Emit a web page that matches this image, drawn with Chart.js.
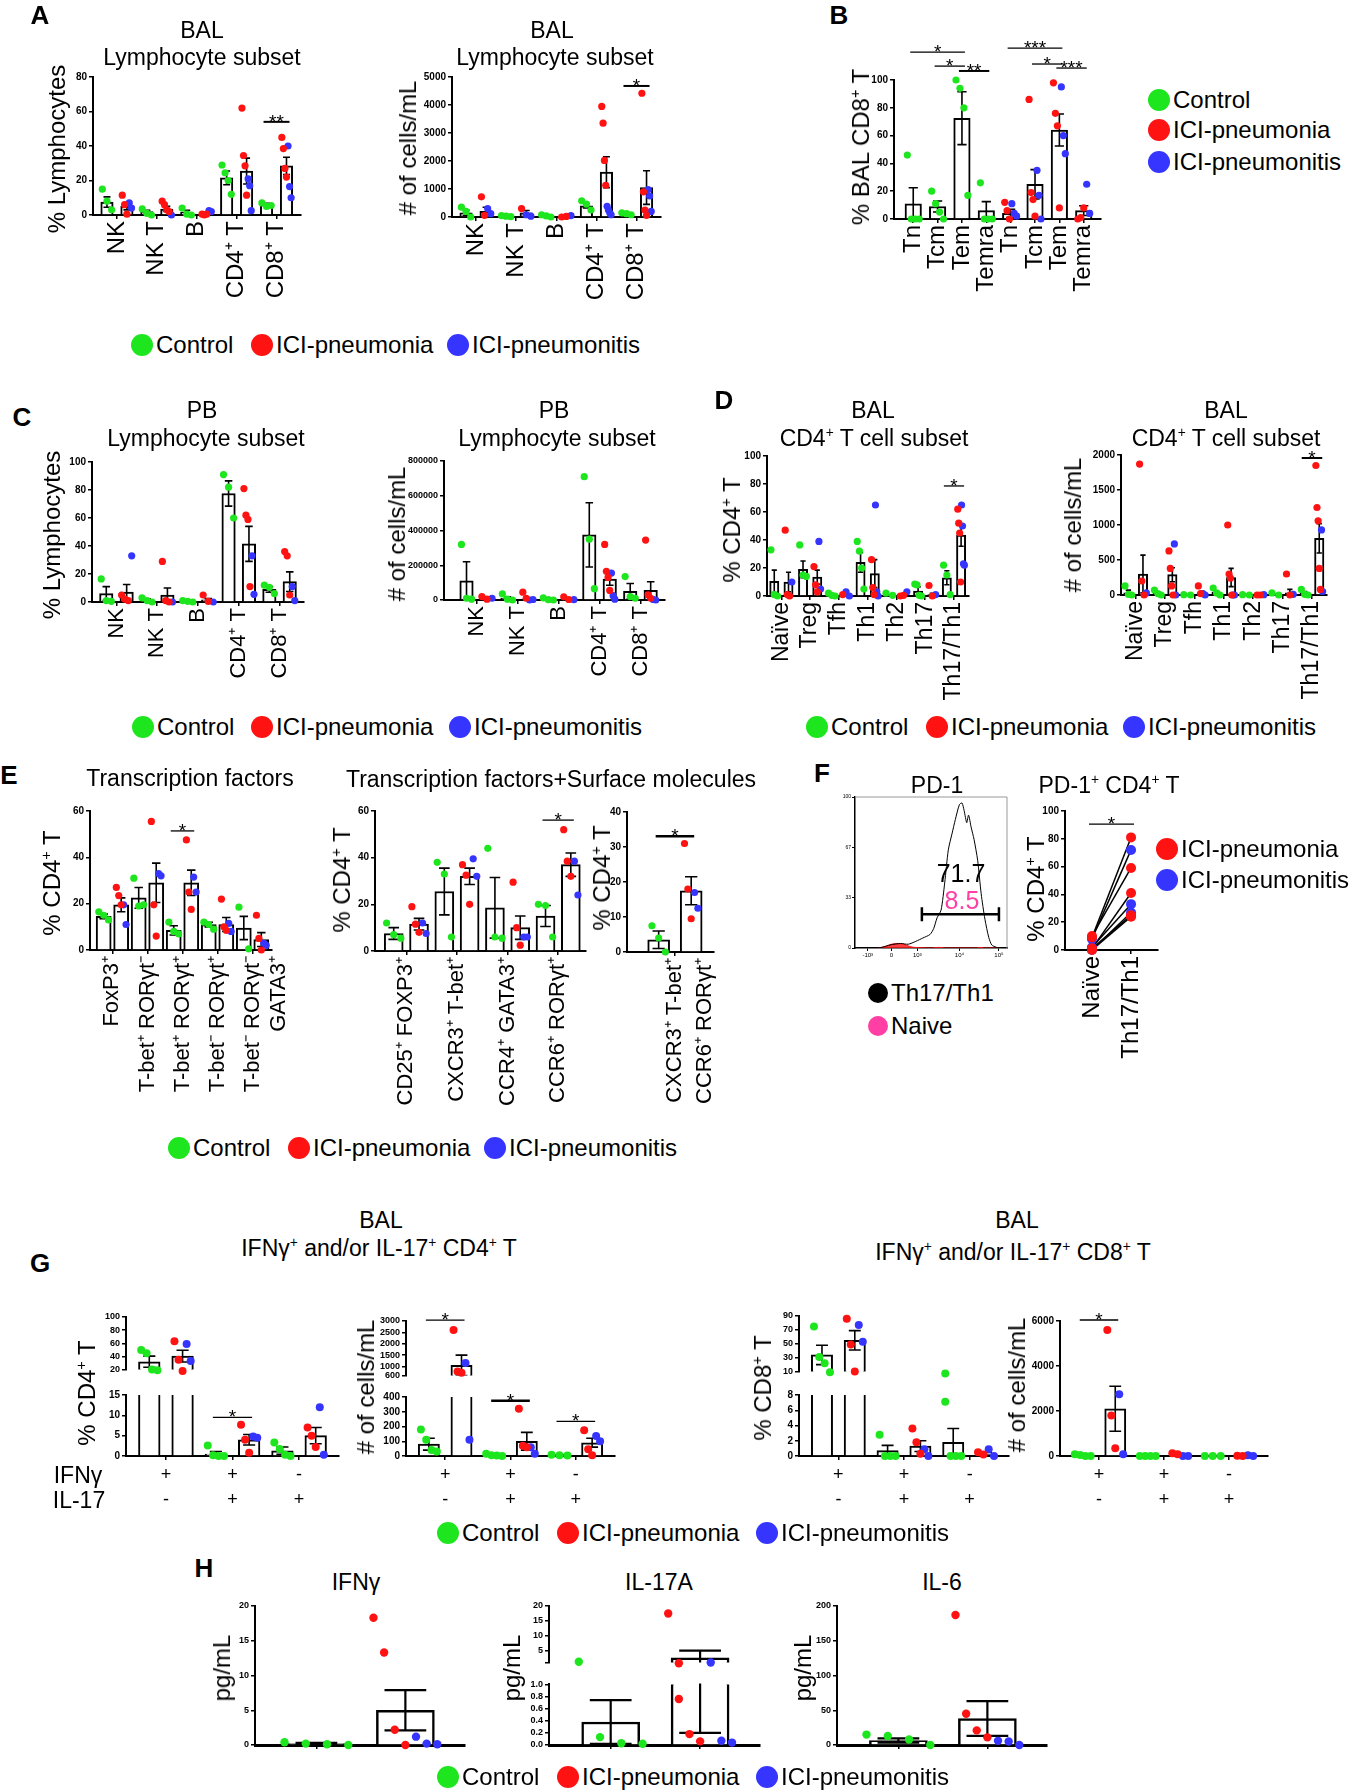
<!DOCTYPE html>
<html>
<head>
<meta charset="utf-8">
<script src="https://cdn.jsdelivr.net/npm/chart.js@4.4.1/dist/chart.umd.min.js"></script>
<style>
html, body { margin: 0; padding: 0; background: #fff; }
#stage { position: relative; width: 1351px; height: 1790px; overflow: hidden; font-family: 'Liberation Sans', Arial, sans-serif; color: #000; }
#stage canvas { position: absolute; }
.t { position: absolute; white-space: nowrap; transform: translate(-50%, -50%); line-height: 1; }
.v { position: absolute; white-space: nowrap; transform: translate(-50%, -50%) rotate(-90deg); line-height: 1; }
.lab { position: absolute; font-weight: bold; transform: translate(-50%, -50%); line-height: 1; }
.lt { position: absolute; white-space: nowrap; transform: translateY(-50%); line-height: 1; }
.dot { position: absolute; border-radius: 50%; }
sup { font-size: 0.6em; vertical-align: 0.6em; line-height: 0; }
</style>
</head>
<body>
<div id="stage"></div>
<script>
const GREEN = '#1ee61e', RED = '#ff1212', BLUE = '#3535ff', PINK = '#ff3fa4';
const FONT = "'Liberation Sans', Arial, sans-serif";
Chart.defaults.font.family = FONT;
Chart.defaults.color = '#000';
Chart.defaults.animation = false;

// ---------- A: BAL lymphocyte subsets ----------
const lymphCats = ['NK', 'NK T', 'B', 'CD4⁺ T', 'CD8⁺ T'];
const aPctMean = [[7.5, 2, 1.5, 21.5, 6], [5, 3.5, 0.8, 25.5, 28.5]];
const aPctSem = [[3, 0.7, 1.2, 4, 0.8], [2, 1.5, 0.5, 7.5, 5]];
const aPctCtrl = [[15, 8, 3], [3.5, 1, 0], [4, 0.5, 0], [29, 24.5, 20, 12], [7, 5, 5.5]];
const aPctPna = [[11.5, 6, 0.5], [8, 6, 3, 2], [0.5, 0, 0.5], [62, 34.5, 28.5, 11.5], [45, 38.5, 27, 22]];
const aPctPnt = [[7, 4], [0], [2.5, 2], [21, 17, 2.5], [40, 16.5, 10]];

const aNumMean = [[150, 30, 40, 400, 100], [200, 150, 30, 1600, 1050]];
const aNumSem = [[100, 15, 25, 80, 20], [150, 80, 15, 550, 600]];
const aNumCtrl = [[350, 200, 0], [50, 30, 10], [80, 40, 0], [580, 460, 250], [150, 120, 80]];
const aNumPna = [[720, 60], [300], [0, 20], [3950, 3350, 2020, 1130], [4420, 900, 250, 60]];
const aNumPnt = [[300, 120], [80, 30], [50], [380, 250, 150, 80], [980, 750, 200]];

// ---------- B: BAL CD8 T subsets ----------
const bCats = ['Tn', 'Tcm', 'Tem', 'Temra', 'Tn', 'Tcm', 'Tem', 'Temra'];
const bMean = [11, 9, 72.5, 6, 4, 25, 64, 6];
const bSem = [11.5, 4, 19, 6.5, 3, 10.5, 11.5, 3.5];
const bCtrl = [[46, 0, 0, 0], [20, 11, 5, 0], [100, 94, 80, 17], [26, 0, 0, 0], [], [], [], []];
const bPna = [[], [], [], [], [12, 6, 0], [86, 19, 14, 2], [98, 76, 67, 8], [0, 1, 8]];
const bPnt = [[], [], [], [], [11, 4, 2], [35, 17, 0], [95, 60, 47], [25, 4]];

// ---------- C: PB lymphocyte subsets ----------
const cPctMean = [[6, 1.5, 0.5, 77.5, 9], [7, 5, 1.5, 41.5, 14.5]];
const cPctSem = [[5, 0.8, 0.3, 9, 2], [5.5, 5, 1, 12.5, 7]];
const cPctCtrl = [[16.5, 1, 0.5], [3, 1, 0], [1, 0.5, 0], [91, 82, 60], [12, 10.5, 6]];
const cPctPna = [[5, 2, 1], [29, 1, 0], [5, 0.5], [81, 62, 59, 11], [36, 33, 5]];
const cPctPnt = [[33], [0], [0], [33, 5.5], [11, 1]];

const cNumMean = [[110000, 10000, 5000, 375000, 50000], [10000, 5000, 5000, 120000, 55000]];
const cNumSem = [[110000, 8000, 3000, 185000, 45000], [5000, 5000, 3000, 35000, 50000]];
const cNumCtrl = [[320000, 10000, 5000], [35000, 5000, 0], [12000, 2000, 0], [710000, 350000, 65000], [135000, 20000, 10000]];
const cNumPna = [[20000, 5000], [45000, 10000], [18000, 3000], [320000, 165000, 130000, 55000], [345000, 30000, 10000]];
const cNumPnt = [[10000], [0, 3000], [2000], [155000, 25000, 5000], [3000, 0]];

// ---------- D: BAL CD4 T subsets ----------
const dCats = ['Naïve', 'Treg', 'Tfh', 'Th1', 'Th2', 'Th17', 'Th17/Th1'];
const dPctMean = [[10.5, 19, 0.5, 24, 0.5, 3.5, 13], [10, 13.5, 1, 16, 0.5, 1, 43.5]];
const dPctSem = [[8, 6, 0.5, 7, 0.4, 3, 5], [7, 5, 0.8, 10, 0.5, 1, 8]];
const dPctCtrl = [[33, 1, 0], [36.5, 15, 14], [2, 0.5, 0], [39, 32, 20, 5], [2, 0.5], [8.5, 8, 0.5, 0], [22, 15, 1]];
const dPctPna = [[47, 1, 0], [21, 8, 3], [1], [26, 6, 1], [0, 0.5], [7.5, 0], [62, 52, 45, 10]];
const dPctPnt = [[10], [39, 5], [3, 0], [65, 3, 0], [3], [1], [65, 50, 23, 22]];

const dNumMean = [[30, 30, 5, 40, 0, 5, 30], [300, 290, 30, 250, 0, 30, 810]];
const dNumSem = [[40, 15, 3, 20, 0, 5, 20], [270, 100, 20, 130, 0, 50, 210]];
const dNumCtrl = [[130, 10, 0], [70, 20, 0], [5, 0], [100, 30, 0], [5, 0], [30, 0], [80, 10, 0]];
const dNumPna = [[1870, 200, 0], [630, 380, 130, 0], [130, 20], [1000, 300, 240, 0], [0, 0], [300, 0], [1850, 1250, 1060, 380, 80]];
const dNumPnt = [[30], [730, 0], [20, 0], [0, 0], [5], [10], [930, 50]];

// ---------- E: transcription factors / surface molecules ----------
const e1Cats = ['FoxP3⁺', 'T-bet⁺ RORγt⁻', 'T-bet⁺ RORγt⁺', 'T-bet⁻ RORγt⁺', ['T-bet⁻ RORγt⁻', 'GATA3⁺']];
const e1Mean = [[14.5, 22.5, 8.5, 11, 9.5], [19.5, 29, 29, 11, 4.5]];
const e1Sem = [[1, 4.5, 2, 1, 5], [3, 8.5, 5.5, 3, 3]];
const e1Ctrl = [[16.5, 15, 13], [31, 19, 19.5], [12, 8, 7], [12, 11, 9], [18.5, 0.5]];
const e1Pna = [[27, 23.5, 19.5], [55.5, 19.5, 6], [47.5, 25, 17.5], [22, 10, 8.5], [15, 5, 0]];
const e1Pnt = [[19.5, 11], [33, 32], [31.5, 25], [11.5, 8], [3, 2]];

const e2Cats = ['CD25⁺ FOXP3⁺', 'CXCR3⁺ T-bet⁺', 'CCR4⁺ GATA3⁺', 'CCR6⁺ RORγt⁺'];
const e2Mean = [[7.5, 25.5, 18.5, 15], [11.5, 32, 10, 37]];
const e2Sem = [[2.5, 10, 13, 4.5], [2.5, 3.5, 5, 5]];
const e2Ctrl = [[12, 7, 5.5], [38, 33, 6], [44, 6, 5.5], [20, 19.5, 6]];
const e2Pna = [[19, 11.5, 8], [37, 32.5, 20], [29.5, 10, 2.5], [52, 38.5, 32]];
const e2Pnt = [[12, 7.5], [39.5, 32], [6, 6], [38.5, 24]];

const e3Cats = [['CXCR3⁺ T-bet⁺', 'CCR6⁺ RORγt⁺']];
const e3Mean = [[3.5], [17.5]];
const e3Sem = [[2.5], [4]];
const e3Ctrl = [[7.5, 4, 0]];
const e3Pna = [[31, 18, 9.5]];
const e3Pnt = [[17, 12.5]];

// ---------- F: PD-1 ----------
const histXLabels = ['-10³', '0', '10³', '10⁴', '10⁵'];
const histXTicks = [8.4, 24, 41, 68.7, 94.7];
const histYTicks = [0, 33.3, 66.7, 100];
const histTh17X = [15, 18, 23, 30, 35, 40, 44.6, 49.4, 51.8, 54, 56.6, 59, 61.4, 63.9, 66, 68.7, 70.4, 71.8, 73.5, 74.7, 76.4, 78.3, 80.7, 83, 85.5, 88, 90, 92.8, 95];
const histTh17Y = [0, 0.5, 2, 3, 2.5, 4.4, 6.6, 9, 13, 20, 25, 43, 65, 76, 85, 95, 96, 91, 83, 88, 80, 72, 58, 36, 19, 7, 2, 0.5, 0];
const histNaiveX = [15, 20, 24, 28, 32, 36, 40, 50, 55, 60, 80, 82, 85, 95];
const histNaiveY = [0, 1, 2.5, 3, 2.5, 1, 0.3, 0, 0.4, 0, 0, 0.4, 0, 0];
const fCats = ['Naïve', 'Th17/Th1'];
const fNaive = [9, 8, 10, 1, 2, 0, 1, 0];
const fTh = [81, 72, 59, 41, 33, 27, 25, 24];
const fGroup = ['pna', 'pnt', 'pna', 'pna', 'pnt', 'pnt', 'pna', 'pna'];

// ---------- G: IFNg / IL-17 producing T cells ----------
const gCats = [['+', '-'], ['+', '+'], ['-', '+']];
const g1Mean = [[32, 0.5, 1.3], [40.5, 4, 5]];
const g1Sem = [[8.5, 0.6, 0.9], [9, 1.3, 2]];
const g1Ctrl = [[50, 45, 20, 19], [2.6, 0.2, 0, 0], [3.3, 1.7, 0.3, 0]];
const g1Pna = [[63, 35, 18], [7.7, 4, 0.8], [7, 5, 2.2]];
const g1Pnt = [[59, 33], [4.8, 4.5], [12, 0.3]];

const g2Mean = [[80, 5, 5], [1050, 100, 90]];
const g2Sem = [[40, 3, 2], [450, 60, 30]];
const g2Ctrl = [[180, 110, 40, 30], [15, 5, 3, 0], [8, 5, 3]];
const g2Pna = [[2600, 780, 720], [320, 70, 60], [175, 45, 5]];
const g2Pnt = [[1150, 110], [60, 15], [135, 100]];

const g3Mean = [[34, 0.7, 1.8], [55, 1.3, 0.3]];
const g3Sem = [[14, 0.7, 1.8], [14, 0.7, 0.2]];
const g3Ctrl = [[75, 31, 22, 9], [2.8, 0, 0, 0], [7.1, 0, 0, 0]];
const g3Pna = [[86, 49, 10], [3.6, 1.8, 0.3], [0.5, 0.2]];
const g3Pnt = [[77, 53], [0.9, 0], [0.9, 0]];

const g4Mean = [[30, 0, 0], [2100, 60, 20]];
const g4Sem = [[20, 0, 0], [1000, 30, 10]];
const g4Ctrl = [[80, 40, 0, 0], [0, 0, 0, 0], [0, 0, 0]];
const g4Pna = [[5600, 1800, 350], [120, 80], [10, 0]];
const g4Pnt = [[2750, 80], [0, 0], [30, 0]];

// ---------- H: cytokines ----------
const hCats = ['', ''];
const h1Mean = [0.2, 5], h1Sem = [0.1, 2.9];
const h1Ctrl = [[0.4, 0.2, 0.1, 0], []], h1Pna = [[], [18.3, 13.3, 2.2, 0]], h1Pnt = [[], [1.2, 0.2, 0.1]];
const h2Mean = [0.38, 2.6], h2Sem = [0.36, 2.4];
const h2Ctrl = [[1.3, 0.13, 0.03, 0.02], []], h2Pna = [[], [17.5, 0.76, 0.18, 0.06]], h2Pnt = [[], [1.05, 0.07, 0.04]];
const h3Mean = [6.5, 38], h3Sem = [3, 25];
const h3Ctrl = [[15, 13, 8, 0], []], h3Pna = [[], [187, 45, 21, 11]], h3Pnt = [[], [6, 5, 0]];

// ================= drawing =================
const stage = document.getElementById('stage');

function addText(cls, x, y, html, size) {
  const el = document.createElement('div');
  el.className = cls;
  el.style.left = x + 'px';
  el.style.top = y + 'px';
  el.style.fontSize = size + 'px';
  el.innerHTML = html;
  stage.appendChild(el);
}

function legend(items, size, d) {
  items.forEach(([cx, cy, color, text]) => {
    const dot = document.createElement('div');
    dot.className = 'dot';
    dot.style.cssText = `left:${cx - d / 2}px;top:${cy - d / 2}px;width:${d}px;height:${d}px;background:${color}`;
    stage.appendChild(dot);
    addText('lt', cx + d / 2 + 3, cy, text, size);
  });
}

function makeCanvas(left, top, w, h) {
  const cv = document.createElement('canvas');
  cv.width = w; cv.height = h;
  cv.style.left = left + 'px'; cv.style.top = top + 'px';
  cv.style.width = w + 'px'; cv.style.height = h + 'px';
  stage.appendChild(cv);
  return cv;
}

// mean +/- SEM whiskers on each bar
Chart.register({
  id: 'errBars',
  afterDatasetDraw(chart, args) {
    const ds = chart.data.datasets[args.index];
    if (!ds.sems) return;
    const y = chart.scales.y, a = chart.chartArea, ctx = chart.ctx;
    ctx.save();
    ctx.beginPath();
    ctx.rect(a.left, a.top - 1, a.right - a.left, a.bottom - a.top + 1);
    ctx.clip();
    ctx.strokeStyle = '#000';
    ctx.lineWidth = ds.errWidth || 1.6;
    args.meta.data.forEach((bar, i) => {
      const m = ds.data[i].y, s = ds.sems[i];
      if (m === null || !s) return;
      const x = bar.x, hw = bar.width * (ds.cap || 0.28);
      const hi = y.getPixelForValue(m + s), lo = y.getPixelForValue(m - s);
      ctx.beginPath();
      ctx.moveTo(x, hi); ctx.lineTo(x, lo);
      ctx.moveTo(x - hw, hi); ctx.lineTo(x + hw, hi);
      ctx.moveTo(x - hw, lo); ctx.lineTo(x + hw, lo);
      ctx.stroke();
    });
    ctx.restore();
  }
});

// significance brackets
function sigPlugin(list) {
  return {
    id: 'sig',
    afterDraw(chart) {
      const ctx = chart.ctx, y = chart.scales.y, xs = chart.scales.x;
      const xOf = ([i, d]) => xs.getPixelForValue(chart.data.datasets[d].data[i].x);
      list.forEach(s => {
        const x1 = s.from ? xOf(s.from) : xs.getPixelForValue(s.x1);
        const x2 = s.to ? xOf(s.to) : xs.getPixelForValue(s.x2);
        const yy = y.getPixelForValue(s.y);
        ctx.save();
        ctx.strokeStyle = '#000';
        ctx.lineWidth = s.lw || 1.3;
        ctx.beginPath(); ctx.moveTo(x1 - 3, yy); ctx.lineTo(x2 + 3, yy); ctx.stroke();
        ctx.fillStyle = '#000';
        ctx.font = `19px ${FONT}`;
        ctx.textAlign = 'center';
        ctx.textBaseline = 'alphabetic';
        ctx.fillText(s.text, (x1 + x2) / 2, yy + 6);
        ctx.restore();
      });
    }
  };
}

const trio = (c, r, b) => [{ bar: 0, color: GREEN, vals: c }, { bar: 1, color: RED, vals: r }, { bar: 1, color: BLUE, vals: b }];
const single = (c, r, b) => [{ bar: 0, color: GREEN, vals: c }, { bar: 0, color: RED, vals: r }, { bar: 0, color: BLUE, vals: b }];

function barChart(o) {
  const [ax, top, right, bottom] = o.area;
  const YW = o.yw || 50, PT = o.pt ?? 50, PR = 6, XH = o.xh ?? 0;
  const left = ax - YW;
  const cv = makeCanvas(left, top - PT, right - left + PR, bottom - top + PT + XH);
  const n = o.cats.length, nD = o.means.length;
  const cp = o.cp, bp = o.bp, slot = cp / Math.max(nD, 1);
  const xMin = o.xMin ?? -0.5, xMax = o.xMax ?? n - 0.5;
  const unitPx = (right - ax) / (xMax - xMin);
  const bt = o.bt || unitPx * slot * bp;
  const center = (d, i) => i + (nD > 1 ? (d - (nD - 1) / 2) * slot : 0);
  const ymin = o.ymin || 0, tol = 0.04 * (o.ymax - ymin);
  const bars = o.means.map((m, d) => ({
    type: 'bar', grouped: false, barThickness: bt, order: 3, cap: o.cap, errWidth: o.ew,
    data: m.map((v, i) => ({ x: center(d, i), y: ymin > 0 && v < ymin ? null : v })), sems: o.sems[d],
    backgroundColor: '#fff', borderColor: '#000', borderWidth: o.bw || 2, clip: 0
  }));
  const groups = new Map();
  o.pts.forEach((p, pi) => p.vals.forEach((list, i) => (list || []).forEach(v => {
    const key = p.bar * 1000 + i;
    if (!groups.has(key)) groups.set(key, []);
    groups.get(key).push([pi, v]);
  })));
  const pointSets = o.pts.map(p => ({
    type: 'scatter', data: [], order: 1,
    backgroundColor: p.color, borderWidth: 0, pointRadius: o.pr || 3.6, clip: false
  }));
  groups.forEach((list, key) => {
    const d = Math.floor(key / 1000), i = key % 1000;
    const c = center(d, i);
    const span = o.jitter === false ? 0 : (bt / unitPx) * (o.spread || 0.75);
    list.forEach(([pi, v], k) => {
      if (v < ymin - tol || v > o.ymax + tol) return;
      const off = list.length > 1 ? (k / (list.length - 1) - 0.5) * span : 0;
      pointSets[pi].data.push({ x: c + off, y: v });
    });
  });
  new Chart(cv, {
    type: 'bar',
    data: { datasets: [...bars, ...(o.lines || []), ...pointSets] },
    options: {
      responsive: false,
      animation: false,
      layout: { padding: { top: PT, right: PR, left: 0, bottom: 0 } },
      plugins: { legend: { display: false }, tooltip: { enabled: false } },
      scales: {
        x: {
          type: 'linear',
          display: o.showX !== false,
          offset: false,
          min: xMin,
          max: xMax,
          afterBuildTicks: s => { s.ticks = o.cats.map((c, i) => ({ value: i })); },
          grid: { offset: false, drawOnChartArea: false, drawTicks: true, tickLength: 4, color: '#000', lineWidth: 1.5 },
          border: { color: '#000', width: o.axw || 2 },
          ticks: {
            autoSkip: false, minRotation: o.rot ?? 90, maxRotation: o.rot ?? 90, padding: 2, color: '#000',
            font: { size: o.xfs || 22, lineHeight: o.xlh || 1.2 },
            callback: (v, i) => o.cats[i]
          },
          afterFit: s => { s.height = XH; }
        },
        y: {
          min: ymin,
          max: o.ymax,
          afterBuildTicks: s => { s.ticks = o.yticks.map(v => ({ value: v })); },
          afterFit: s => { s.width = YW; },
          grid: { drawOnChartArea: false, tickLength: 4, color: '#000', lineWidth: 1.5 },
          border: { color: '#000', width: o.ayw || 2 },
          ticks: { autoSkip: false, padding: 2, color: '#000', font: { size: o.yfs || 10, weight: 'bold' }, callback: o.yfmt || (v => String(v)) }
        }
      }
    },
    plugins: [sigPlugin(o.sig || [])]
  });
}

// ---- A ----
barChart({ area: [93, 77, 302, 215], cats: lymphCats, means: aPctMean, sems: aPctSem, pts: trio(aPctCtrl, aPctPna, aPctPnt),
  ymax: 80, yticks: [0, 20, 40, 60, 80], cp: 1, bp: 0.62, xMin: -0.6, xMax: 4.6, xh: 95, xfs: 24,
  sig: [{ from: [4, 0], to: [4, 1], y: 54, text: '**', lw: 2 }] });
barChart({ area: [452, 77, 662, 217], cats: lymphCats, means: aNumMean, sems: aNumSem, pts: trio(aNumCtrl, aNumPna, aNumPnt),
  ymax: 5000, yticks: [0, 1000, 2000, 3000, 4000, 5000], cp: 1, bp: 0.62, xMin: -0.6, xMax: 4.6, xh: 95, xfs: 24,
  sig: [{ from: [4, 0], to: [4, 1], y: 4680, text: '*', lw: 2 }] });

// ---- B ----
barChart({ area: [894, 80, 1109, 219], cats: bCats, means: [bMean], sems: [bSem], pts: single(bCtrl, bPna, bPnt),
  ymax: 100, yticks: [0, 20, 40, 60, 80, 100], cp: 1, bp: 0.65, xMin: -0.79, xMax: 7.68, xh: 90, xfs: 24,
  sig: [
    { from: [0, 0], to: [2, 0], y: 120, text: '*' },
    { from: [1, 0], to: [2, 0], y: 110, text: '*' },
    { from: [2, 0], to: [3, 0], y: 106.5, text: '**', lw: 2 },
    { from: [4, 0], to: [6, 0], y: 123, text: '***' },
    { from: [5, 0], to: [6, 0], y: 111.5, text: '*' },
    { from: [6, 0], to: [7, 0], y: 108.6, text: '***' }
  ] });

// ---- C ----
barChart({ area: [92, 462, 304, 602], cats: lymphCats, means: cPctMean, sems: cPctSem, pts: trio(cPctCtrl, cPctPna, cPctPnt),
  ymax: 100, yticks: [0, 20, 40, 60, 80, 100], cp: 1, bp: 0.66, xMin: -0.6, xMax: 4.6, xh: 95, xfs: 22 });
barChart({ area: [444, 461, 665, 600], cats: lymphCats, means: cNumMean, sems: cNumSem, pts: trio(cNumCtrl, cNumPna, cNumPnt),
  ymax: 800000, yticks: [0, 200000, 400000, 600000, 800000], cp: 1, bp: 0.66, xMin: -0.8, xMax: 4.6, xh: 95, xfs: 22, yfs: 9 });

// ---- D ----
barChart({ area: [767, 456, 978, 596], cats: dCats, means: dPctMean, sems: dPctSem, pts: trio(dPctCtrl, dPctPna, dPctPnt),
  ymax: 100, yticks: [0, 20, 40, 60, 80, 100], cp: 0.99, bp: 0.62, xh: 115, xfs: 23,
  sig: [{ from: [6, 0], to: [6, 1], y: 78.6, text: '*' }] });
barChart({ area: [1121, 455, 1336, 595], cats: dCats, means: dNumMean, sems: dNumSem, pts: trio(dNumCtrl, dNumPna, dNumPnt),
  ymax: 2000, yticks: [0, 500, 1000, 1500, 2000], cp: 0.99, bp: 0.62, xh: 115, xfs: 23,
  sig: [{ from: [6, 0], to: [6, 1], y: 1957, text: '*', lw: 2 }] });

// ---- E ----
barChart({ area: [90, 811, 302, 950], cats: e1Cats, means: e1Mean, sems: e1Sem, pts: trio(e1Ctrl, e1Pna, e1Pnt),
  ymax: 60, yticks: [0, 20, 40, 60], cp: 1, bp: 0.74, xMin: -0.64, xMax: 4.56, xh: 180, xfs: 22,
  sig: [{ from: [2, 0], to: [2, 1], y: 51.4, text: '*' }] });
barChart({ area: [375, 811, 586, 951], cats: e2Cats, means: e2Mean, sems: e2Sem, pts: trio(e2Ctrl, e2Pna, e2Pnt),
  ymax: 60, yticks: [0, 20, 40, 60], cp: 1, bp: 0.75, xMin: -0.62, xMax: 3.55, xh: 180, xfs: 22,
  sig: [{ from: [3, 0], to: [3, 1], y: 56.1, text: '*' }] });
barChart({ area: [627, 812, 733, 952], cats: e3Cats, means: e3Mean, sems: e3Sem, pts: trio(e3Ctrl, e3Pna, e3Pnt),
  ymax: 40, yticks: [0, 10, 20, 30, 40], cp: 0.76, bp: 0.55, xMin: -0.56, xMax: 0.45, xh: 180, xfs: 22, xlh: 1.35,
  sig: [{ from: [0, 0], to: [0, 1], y: 33.1, text: '*', lw: 2.5 }] });

// ---- F: histogram ----
(function () {
  const [ax, top, right, bottom] = [855, 797, 1007, 948];
  const YW = 22, PT = 4, PR = 4, XH = 16;
  const cv = makeCanvas(ax - YW, top - PT, right - ax + YW + PR, bottom - top + PT + XH);
  new Chart(cv, {
    type: 'line',
    data: { datasets: [
      { data: histTh17X.map((x, i) => ({ x, y: histTh17Y[i] })), borderColor: '#000', borderWidth: 1, pointRadius: 0, tension: 0.25 },
      { data: histNaiveX.map((x, i) => ({ x, y: histNaiveY[i] })), borderColor: RED, backgroundColor: 'rgba(255,30,30,0.85)', fill: 'origin', borderWidth: 1, pointRadius: 0, tension: 0.25 }
    ] },
    options: {
      responsive: false, animation: false,
      layout: { padding: { top: PT, right: PR, left: 0, bottom: 0 } },
      plugins: { legend: { display: false }, tooltip: { enabled: false } },
      scales: {
        x: {
          type: 'linear', min: 0, max: 100,
          afterBuildTicks: s => { s.ticks = histXTicks.map(v => ({ value: v })); },
          afterFit: s => { s.height = XH; },
          grid: { drawOnChartArea: false, tickLength: 3, color: '#000' },
          border: { color: '#000', width: 1.5 },
          ticks: { font: { size: 6 }, padding: 1, maxRotation: 0, callback: (v, i) => histXLabels[i] }
        },
        y: {
          min: 0, max: 100,
          afterBuildTicks: s => { s.ticks = histYTicks.map(v => ({ value: v })); },
          afterFit: s => { s.width = YW; },
          grid: { drawOnChartArea: false, tickLength: 3, color: '#000' },
          border: { color: '#000', width: 1.5 },
          ticks: { font: { size: 5 }, padding: 1, callback: v => v.toFixed(0) }
        }
      }
    },
    plugins: [{
      id: 'gate',
      afterDraw(chart) {
        const ctx = chart.ctx, a = chart.chartArea, x = chart.scales.x, y = chart.scales.y;
        ctx.save();
        ctx.strokeStyle = '#999'; ctx.lineWidth = 1;
        ctx.beginPath(); ctx.moveTo(a.left, a.top); ctx.lineTo(a.right, a.top); ctx.lineTo(a.right, a.bottom); ctx.stroke();
        const x1 = x.getPixelForValue(44), x2 = x.getPixelForValue(94.7), yy = y.getPixelForValue(22.4);
        ctx.strokeStyle = '#000'; ctx.lineWidth = 2.5;
        ctx.beginPath();
        ctx.moveTo(x1, yy); ctx.lineTo(x2, yy);
        ctx.moveTo(x1, yy - 7); ctx.lineTo(x1, yy + 7);
        ctx.moveTo(x2, yy - 7); ctx.lineTo(x2, yy + 7);
        ctx.stroke();
        ctx.restore();
      }
    }]
  });
})();

// ---- F: paired Naive vs Th17/Th1 ----
barChart({ area: [1065, 811, 1158, 950], cats: fCats, means: [], sems: [],
  pts: [
    { bar: 0, color: RED, vals: [fNaive.filter((v, i) => fGroup[i] === 'pna'), fTh.filter((v, i) => fGroup[i] === 'pna')] },
    { bar: 0, color: BLUE, vals: [fNaive.filter((v, i) => fGroup[i] === 'pnt'), fTh.filter((v, i) => fGroup[i] === 'pnt')] }
  ],
  lines: fNaive.map((v, i) => ({ type: 'line', order: 2, data: [{ x: 0, y: v }, { x: 1, y: fTh[i] }],
    borderColor: '#000', borderWidth: 1.5, pointRadius: 0, clip: false })),
  jitter: false, pr: 5, ymax: 100, yticks: [0, 20, 40, 60, 80, 100], cp: 1, bp: 0.6, xMin: -0.69, xMax: 1.69, xh: 110, xfs: 24,
  sig: [{ x1: 0, x2: 1, y: 90.6, text: '*' }] });

// ---- G ----
const gBase = { cats: gCats, cp: 1, bp: 0.65, xMin: -0.6, xMax: 2.6, pr: 4 };
barChart({ ...gBase, area: [126, 1317, 339, 1377], means: g1Mean, sems: g1Sem, pts: trio(g1Ctrl, g1Pna, g1Pnt),
  ymin: 20, ymax: 100, yticks: [20, 40, 60, 80, 100], showX: false, pt: 8, yfs: 9 });
barChart({ ...gBase, area: [126, 1391, 339, 1456], means: g1Mean, sems: g1Sem, pts: trio(g1Ctrl, g1Pna, g1Pnt),
  ymax: 15, yticks: [0, 5, 10, 15], rot: 0, xfs: 18, xlh: 1.4, xh: 60, pt: 4,
  sig: [{ from: [1, 0], to: [1, 1], y: 9.5, text: '*' }] });
barChart({ ...gBase, area: [406, 1321, 615, 1383], means: g2Mean, sems: g2Sem, pts: trio(g2Ctrl, g2Pna, g2Pnt),
  ymin: 600, ymax: 3000, yticks: [600, 1000, 1500, 2000, 2500, 3000], showX: false, pt: 30, yfs: 9,
  sig: [{ from: [0, 0], to: [0, 1], y: 3040, text: '*' }] });
barChart({ ...gBase, area: [406, 1393, 615, 1456], means: g2Mean, sems: g2Sem, pts: trio(g2Ctrl, g2Pna, g2Pnt),
  ymax: 400, yticks: [0, 100, 200, 300, 400], rot: 0, xfs: 18, xlh: 1.4, xh: 60, pt: 4,
  sig: [{ from: [1, 0], to: [1, 1], y: 374, text: '*', lw: 2.5 }, { from: [2, 0], to: [2, 1], y: 235, text: '*' }] });
barChart({ ...gBase, area: [799, 1316, 1009, 1379], means: g3Mean, sems: g3Sem, pts: trio(g3Ctrl, g3Pna, g3Pnt),
  ymin: 10, ymax: 90, yticks: [10, 30, 50, 70, 90], showX: false, pt: 8, yfs: 9 });
barChart({ ...gBase, area: [799, 1391, 1009, 1456], means: g3Mean, sems: g3Sem, pts: trio(g3Ctrl, g3Pna, g3Pnt),
  ymax: 8, yticks: [0, 2, 4, 6, 8], rot: 0, xfs: 18, xlh: 1.4, xh: 60, pt: 4 });
barChart({ ...gBase, area: [1060, 1321, 1268, 1456], means: g4Mean, sems: g4Sem, pts: trio(g4Ctrl, g4Pna, g4Pnt),
  ymax: 6000, yticks: [0, 2000, 4000, 6000], rot: 0, xfs: 18, xlh: 1.4, xh: 60, pt: 30,
  sig: [{ from: [0, 0], to: [0, 1], y: 6044, text: '*' }] });

// ---- H ----
const hBase = { cats: hCats, cp: 1, bp: 0.55, bt: 58, xMin: -0.69, xMax: 1.67, pr: 4.2, xh: 8, axw: 3, yfs: 9, bw: 2.5,
  cap: 0.36, ew: 2.2, spread: 1.1 };
barChart({ ...hBase, area: [255, 1606, 465, 1745], means: [h1Mean], sems: [h1Sem], pts: single(h1Ctrl, h1Pna, h1Pnt),
  ymax: 20, yticks: [0, 5, 10, 15, 20], pt: 10 });
barChart({ ...hBase, area: [549, 1606, 760, 1670], means: [h2Mean], sems: [h2Sem], pts: single(h2Ctrl, h2Pna, h2Pnt),
  ymin: 1, ymax: 20, yticks: [1, 5, 10, 15, 20], yfmt: v => (v === 1 ? '' : String(v)), showX: false, pt: 10, xh: 0 });
barChart({ ...hBase, area: [549, 1681, 760, 1745], means: [h2Mean], sems: [h2Sem], pts: single(h2Ctrl, h2Pna, h2Pnt),
  ymax: 1, yticks: [0, 0.2, 0.4, 0.6, 0.8, 1], yfmt: v => v.toFixed(1), pt: 4 });
barChart({ ...hBase, area: [837, 1606, 1047, 1745], means: [h3Mean], sems: [h3Sem], pts: single(h3Ctrl, h3Pna, h3Pnt),
  ymax: 200, yticks: [0, 50, 100, 150, 200], pt: 10 });

// ================= text =================
[['A', 40, 15], ['B', 839, 15], ['C', 22, 417], ['D', 724, 400], ['E', 9, 775], ['F', 822, 773], ['G', 40, 1263], ['H', 204, 1568]]
  .forEach(([t, x, y]) => addText('lab', x, y, t, 26));

[
  [202, 30, 'BAL'], [202, 57, 'Lymphocyte subset'], [552, 30, 'BAL'], [555, 57, 'Lymphocyte subset'],
  [202, 410, 'PB'], [206, 438, 'Lymphocyte subset'], [554, 410, 'PB'], [557, 438, 'Lymphocyte subset'],
  [873, 410, 'BAL'], [874, 438, 'CD4<sup>+</sup> T cell subset'], [1226, 410, 'BAL'], [1226, 438, 'CD4<sup>+</sup> T cell subset'],
  [190, 778, 'Transcription factors'], [551, 779, 'Transcription factors+Surface molecules'],
  [937, 785, 'PD-1'], [1109, 785, 'PD-1<sup>+</sup> CD4<sup>+</sup> T'],
  [381, 1220, 'BAL'], [379, 1248, 'IFNγ<sup>+</sup> and/or IL-17<sup>+</sup> CD4<sup>+</sup> T'],
  [1017, 1220, 'BAL'], [1013, 1252, 'IFNγ<sup>+</sup> and/or IL-17<sup>+</sup> CD8<sup>+</sup> T'],
  [356, 1582, 'IFNγ'], [659, 1582, 'IL-17A'], [942, 1582, 'IL-6']
].forEach(([x, y, t]) => addText('t', x, y, t, 23));

[
  [57, 149, '% Lymphocytes'], [408, 148, '# of cells/mL'], [861, 147, '% BAL CD8<sup>+</sup> T'],
  [52, 535, '% Lymphocytes'], [397, 534, '# of cells/mL'],
  [732, 530, '% CD4<sup>+</sup> T'], [1073, 525, '# of cells/mL'],
  [52, 883, '% CD4<sup>+</sup> T'], [342, 880, '% CD4<sup>+</sup> T'], [602, 878, '% CD4<sup>+</sup> T'],
  [1036, 889, '% CD4<sup>+</sup> T'],
  [87, 1393, '% CD4<sup>+</sup> T'], [366, 1387, '# of cells/mL'], [763, 1388, '% CD8<sup>+</sup> T'], [1017, 1385, '# of cells/mL'],
  [222, 1668, 'pg/mL'], [512, 1668, 'pg/mL'], [803, 1668, 'pg/mL']
].forEach(([x, y, t]) => addText('v', x, y, t, 24));

addText('t', 78, 1475, 'IFNγ', 23);
addText('t', 79, 1500, 'IL-17', 23);
addText('t', 961, 873, '71.7', 25);
addText('t', 962, 900, '<span style="color:' + PINK + '">8.5</span>', 25);

const groupRow = (y, xs) => [[xs[0], y, GREEN, 'Control'], [xs[1], y, RED, 'ICI-pneumonia'], [xs[2], y, BLUE, 'ICI-pneumonitis']];
legend(groupRow(345, [142, 262, 458]), 24, 22);
legend(groupRow(727, [143, 262, 460]), 24, 22);
legend(groupRow(727, [817, 937, 1134]), 24, 22);
legend(groupRow(1148, [179, 299, 495]), 24, 22);
legend(groupRow(1533, [448, 568, 767]), 24, 22);
legend(groupRow(1777, [448, 568, 767]), 24, 22);
legend([[1159, 100, GREEN, 'Control'], [1159, 130, RED, 'ICI-pneumonia'], [1159, 162, BLUE, 'ICI-pneumonitis']], 24, 22);
legend([[1167, 849, RED, 'ICI-pneumonia'], [1167, 880, BLUE, 'ICI-pneumonitis']], 24, 22);
legend([[878, 993, '#000', 'Th17/Th1'], [878, 1026, PINK, 'Naive']], 24, 20);
</script>
</body>
</html>
